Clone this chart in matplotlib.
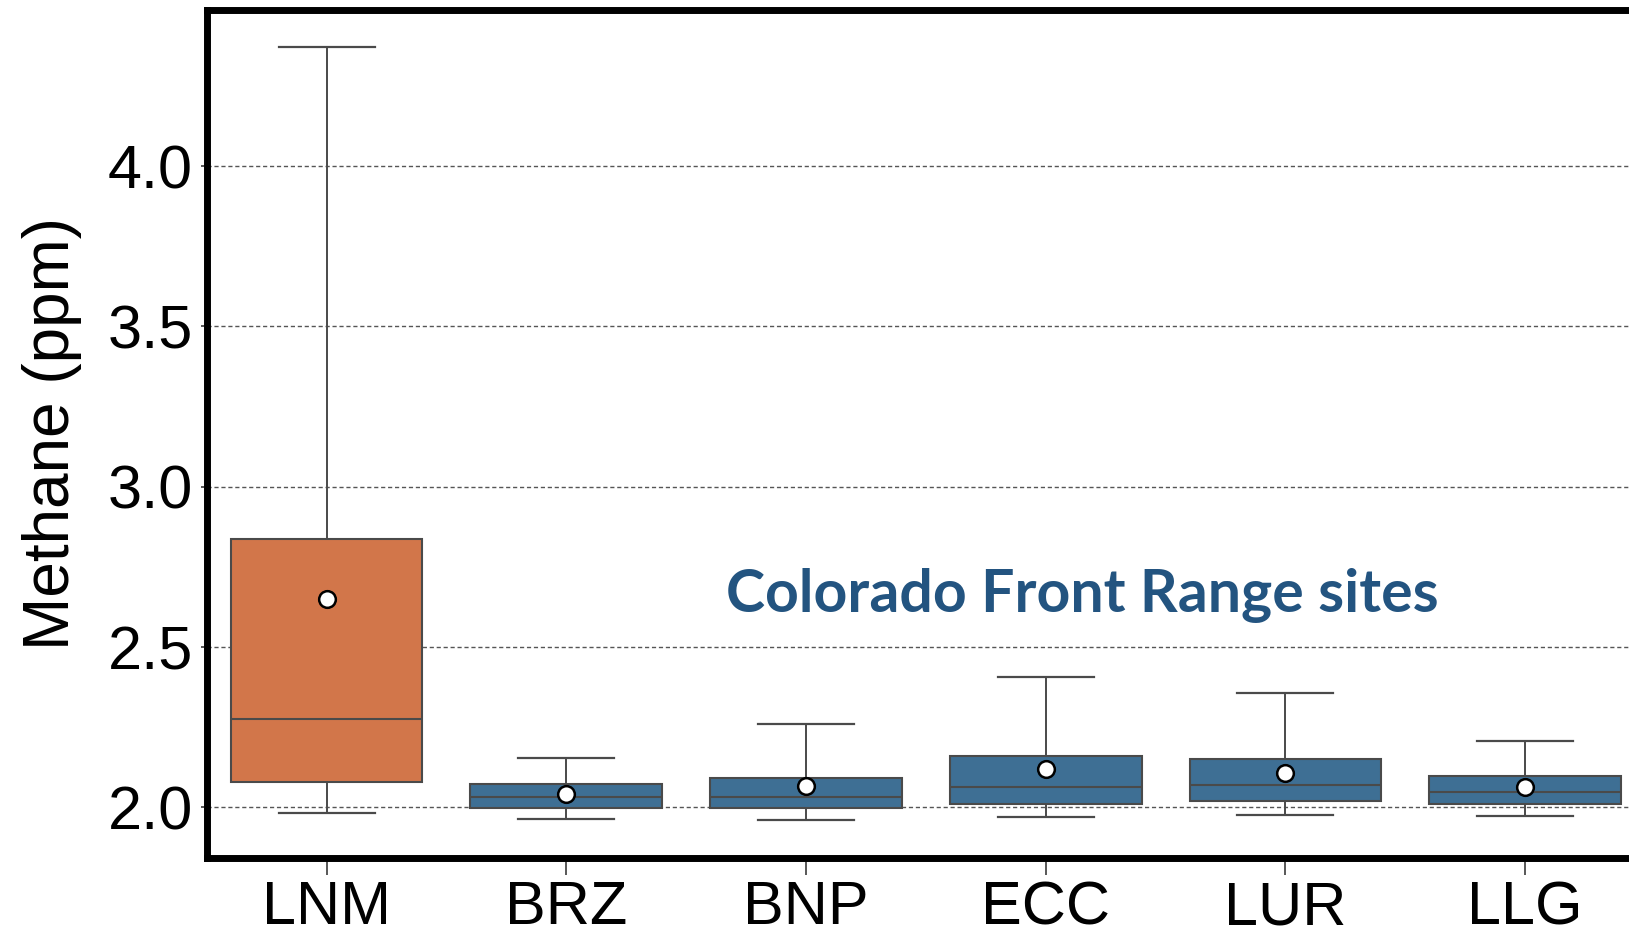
import matplotlib.pyplot as plt

sites = ['LNM', 'BRZ', 'BNP', 'ECC', 'LUR', 'LLG']

# box stats (ppm)
whislo = [1.981, 1.964, 1.960, 1.969, 1.977, 1.974]
q1 = [2.080, 1.997, 1.997, 2.011, 2.019, 2.009]
med = [2.275, 2.031, 2.033, 2.064, 2.071, 2.049]
q3 = [2.837, 2.073, 2.092, 2.160, 2.151, 2.097]
whishi = [4.372, 2.155, 2.259, 2.405, 2.357, 2.208]
means = [2.650, 2.041, 2.066, 2.119, 2.108, 2.064]

box_colors = ['#d2764a', '#3e6f94', '#3e6f94', '#3e6f94', '#3e6f94', '#3e6f94']

stats = []
for i in range(len(sites)):
    stats.append({'label': sites[i], 'whislo': whislo[i], 'q1': q1[i], 'med': med[i],
                  'q3': q3[i], 'whishi': whishi[i], 'mean': means[i], 'fliers': []})

plt.rcParams['font.family'] = ['Liberation Sans', 'DejaVu Sans']

fig = plt.figure(figsize=(16.29, 9.36), dpi=100)
ax = fig.add_axes([0.1269, 0.0833, 0.8829, 0.9065])

line_c = '#4a4a4a'
bp = ax.bxp(stats, positions=range(len(sites)), widths=0.8, patch_artist=True,
            showmeans=True, showfliers=False,
            boxprops=dict(edgecolor=line_c, linewidth=1.5),
            medianprops=dict(color=line_c, linewidth=1.5),
            whiskerprops=dict(color=line_c, linewidth=1.4),
            capprops=dict(color=line_c, linewidth=1.6),
            meanprops=dict(marker='o', markerfacecolor='white', markeredgecolor='black',
                           markeredgewidth=1.8, markersize=12))
for patch, c in zip(bp['boxes'], box_colors):
    patch.set_facecolor(c)

ax.set_xlim(-0.5, 5.5)
ax.set_ylim(1.842, 4.488)
ax.set_yticks([2.0, 2.5, 3.0, 3.5, 4.0])
ax.set_xticks(range(len(sites)))
ax.set_xticklabels(sites)

ax.yaxis.grid(True, linestyle=(0, (3, 2)), linewidth=1.0, color='#555555')
ax.set_axisbelow(True)

for s in ['left', 'top', 'bottom', 'right']:
    ax.spines[s].set_linewidth(5)
    ax.spines[s].set_color('black')

ax.tick_params(axis='x', labelsize=44, length=12, width=1.3, color=line_c, pad=4)
ax.tick_params(axis='y', labelsize=44, length=4, width=1.3, color=line_c, pad=6)
ax.set_ylabel('Methane (ppm)', fontsize=46, labelpad=18)

ax.text(3.154, 2.61, 'Colorado Front Range sites', ha='center', va='baseline',
        fontsize=42.5, fontweight='bold', color='#235480', family=['Lato', 'DejaVu Sans'])

fig.savefig('out.png', dpi=100)
